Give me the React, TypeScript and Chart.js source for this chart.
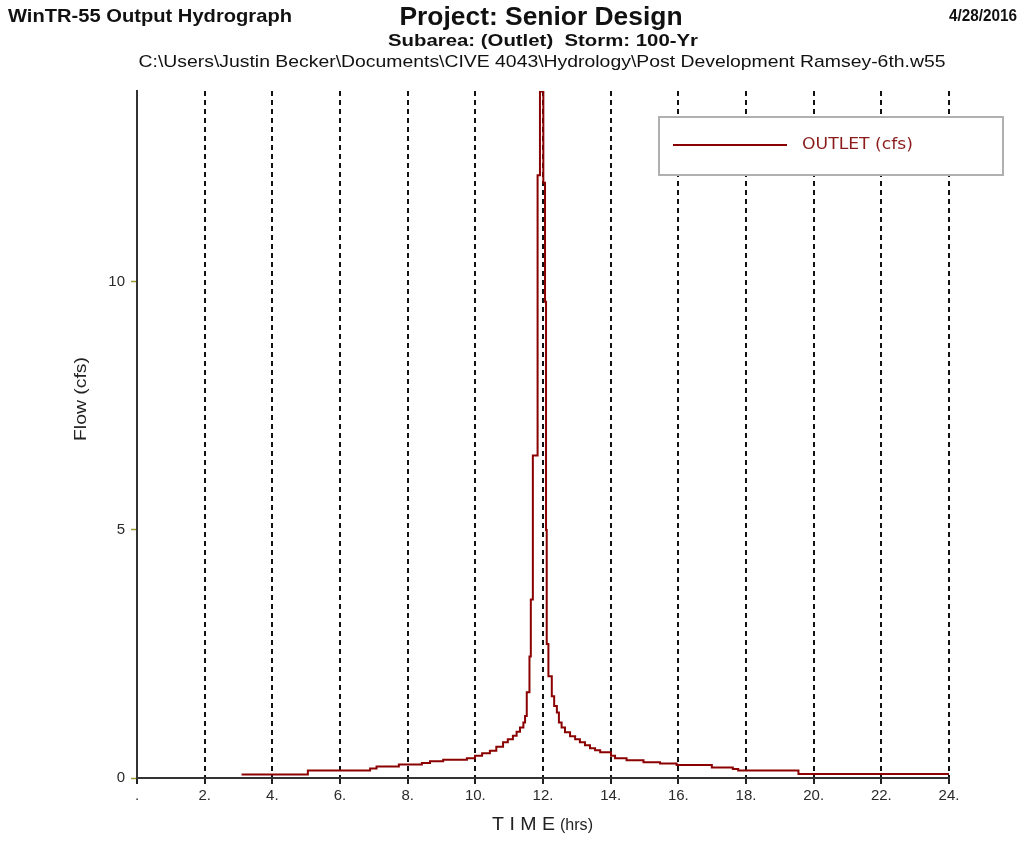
import React, { useEffect, useRef } from "react";
import { Chart, registerables } from "chart.js";

Chart.register(...registerables);

// Hydrograph: each point starts a flow level that holds until the next time
const timeHrs = [3.09, 5.05, 6.89, 7.08, 7.74, 8.42, 8.66, 9.05, 9.75, 9.99, 10.2, 10.43, 10.62, 10.82, 10.96, 11.11, 11.22, 11.32, 11.42, 11.47, 11.52, 11.6, 11.64, 11.7, 11.84, 11.91, 12.01, 12.06, 12.09, 12.11, 12.16, 12.26, 12.33, 12.41, 12.47, 12.55, 12.65, 12.8, 12.95, 13.09, 13.24, 13.39, 13.54, 13.69, 14.01, 14.13, 14.47, 14.97, 15.46, 15.95, 16.99, 17.61, 17.77, 19.55, 24.0];
const flowCfs = [0.07, 0.15, 0.19, 0.23, 0.27, 0.3, 0.34, 0.37, 0.4, 0.45, 0.5, 0.55, 0.63, 0.72, 0.78, 0.85, 0.93, 1.02, 1.12, 1.25, 1.73, 2.45, 3.6, 6.5, 12.15, 13.84, 12.0, 9.6, 5.0, 2.7, 2.05, 1.65, 1.45, 1.32, 1.12, 1.02, 0.92, 0.84, 0.78, 0.72, 0.66, 0.6, 0.56, 0.52, 0.45, 0.4, 0.36, 0.32, 0.29, 0.26, 0.21, 0.18, 0.15, 0.08, 0.08];
const xTickValues = [0, 2, 4, 6, 8, 10, 12, 14, 16, 18, 20, 22, 24];
const yTickValues = [0, 5, 10];
const seriesLabel = "OUTLET (cfs)";
const headerLeft = "WinTR-55 Output Hydrograph";
const headerTitle = "Project: Senior Design";
const headerDate = "4/28/2016";
const headerSub = "Subarea: (Outlet)  Storm: 100-Yr";
const headerPath = "C:\\Users\\Justin Becker\\Documents\\CIVE 4043\\Hydrology\\Post Development Ramsey-6th.w55";
const yTitle = "Flow (cfs)";
const xTitleMain = "T I M E";
const xTitleUnit = "(hrs)";

const FONT = "'Liberation Sans', Arial, sans-serif";

function fitText(
  ctx: CanvasRenderingContext2D,
  text: string,
  x: number,
  y: number,
  font: string,
  color: string,
  align: "left" | "center" | "right",
  width: number
) {
  ctx.save();
  ctx.font = font;
  ctx.fillStyle = color;
  ctx.textBaseline = "middle";
  ctx.textAlign = "left";
  const w = ctx.measureText(text).width;
  const sx = width / w;
  const left = align === "left" ? x : align === "center" ? x - width / 2 : x - width;
  ctx.translate(left, y);
  ctx.scale(sx, 1);
  ctx.fillText(text, 0, 0);
  ctx.restore();
}

const textPlugin = {
  id: "wintrText",
  afterDraw(chart: any) {
    const ctx: CanvasRenderingContext2D = chart.ctx;
    fitText(ctx, headerLeft, 8, 17, `bold 19px ${FONT}`, "#111", "left", 284);
    fitText(ctx, headerTitle, 541, 18, `bold 25px ${FONT}`, "#111", "center", 283);
    fitText(ctx, headerDate, 1017, 17, `bold 16px ${FONT}`, "#111", "right", 68);
    fitText(ctx, headerSub, 543, 41, `bold 17px ${FONT}`, "#111", "center", 310);
    fitText(ctx, headerPath, 542, 62, `17px ${FONT}`, "#111", "center", 807);

    // y axis title
    ctx.save();
    ctx.translate(81, 399);
    ctx.rotate(-Math.PI / 2);
    fitText(ctx, yTitle, 0, 0, `17px ${FONT}`, "#222", "center", 84);
    ctx.restore();

    // x axis title
    fitText(ctx, xTitleMain, 492, 825, `18px ${FONT}`, "#222", "left", 63);
    fitText(ctx, xTitleUnit, 560, 826, `16px ${FONT}`, "#222", "left", 33);

    // legend
    ctx.save();
    ctx.fillStyle = "#fff";
    ctx.fillRect(659, 117, 344, 58);
    ctx.strokeStyle = "#b0b0b0";
    ctx.lineWidth = 2;
    ctx.strokeRect(659, 117, 344, 58);
    ctx.strokeStyle = "#8b0000";
    ctx.lineWidth = 2;
    ctx.beginPath();
    ctx.moveTo(673, 145);
    ctx.lineTo(787, 145);
    ctx.stroke();
    ctx.restore();
    fitText(ctx, seriesLabel, 802, 145, `15px 'DejaVu Sans', sans-serif`, "#8b1a1a", "left", 111);
  },
};

export default function App() {
  const ref = useRef<HTMLCanvasElement | null>(null);
  useEffect(() => {
    if (!ref.current) return;
    const chart = new Chart(ref.current, {
      type: "line",
      data: {
        datasets: [
          {
            label: seriesLabel,
            data: timeHrs.map((t, i) => ({ x: t, y: flowCfs[i] })),
            borderColor: "#8b0000",
            borderWidth: 2,
            pointRadius: 0,
            stepped: "before",
            fill: false,
          },
        ],
      },
      options: {
        animation: false,
        responsive: false,
        maintainAspectRatio: false,
        layout: { padding: { left: 0, top: 91, right: 84, bottom: 0 } },
        plugins: { legend: { display: false }, title: { display: false }, tooltip: { enabled: false } },
        scales: {
          x: {
            type: "linear",
            min: 0,
            max: 24,
            afterBuildTicks: (s: any) => {
              s.ticks = xTickValues.map((v) => ({ value: v }));
            },
            afterFit: (s: any) => {
              s.height = 74;
            },
            ticks: {
              autoSkip: false,
              maxRotation: 0,
              padding: 3,
              color: "#2a2a2a",
              font: { family: FONT, size: 15 },
              callback: (v: any) => (v === 0 ? "." : `${v}.`),
            },
            grid: {
              display: true,
              drawOnChartArea: true,
              color: (c: any) => (c.tick && c.tick.value === 0 ? "rgba(0,0,0,0)" : "#111"),
              lineWidth: 2,
              tickLength: 6,
              tickColor: "#222",
              tickWidth: 2,
            },
            border: { display: true, color: "#333", width: 2, dash: [5, 4] },
          },
          y: {
            type: "linear",
            min: 0,
            max: 13.85,
            afterBuildTicks: (s: any) => {
              s.ticks = yTickValues.map((v) => ({ value: v }));
            },
            afterFit: (s: any) => {
              s.width = 137;
            },
            ticks: {
              padding: 6,
              color: "#2a2a2a",
              font: { family: FONT, size: 15 },
            },
            grid: {
              display: true,
              drawOnChartArea: false,
              tickLength: 6,
              tickColor: "#9a9a30",
              tickWidth: 1.5,
            },
            border: { display: true, color: "#333", width: 2 },
          },
        },
      },
      plugins: [textPlugin],
    });
    return () => chart.destroy();
  }, []);
  return (
    <div style={{ position: "fixed", left: 0, top: 0, width: 1033, height: 852, background: "#fff" }}>
      <canvas ref={ref} width={1033} height={852} style={{ display: "block" }} />
    </div>
  );
}
